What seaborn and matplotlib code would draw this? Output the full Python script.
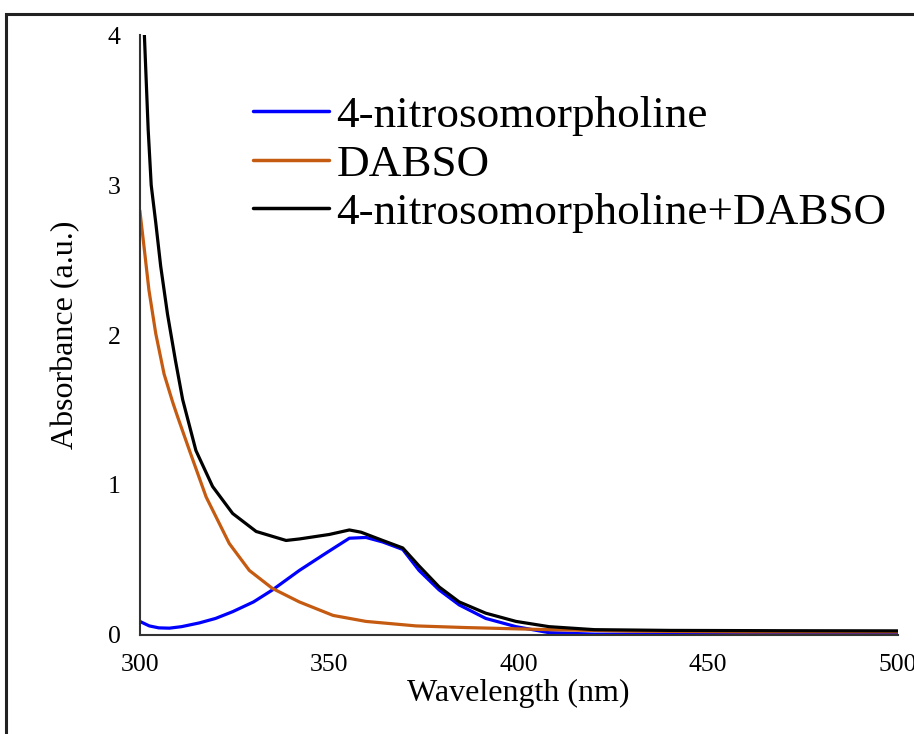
import pandas as pd
import matplotlib.pyplot as plt
import seaborn as sns
from matplotlib.patches import Rectangle

# Spectra (wavelength in nm, absorbance in a.u.)
wl_nitroso = [300, 302.5, 305, 307.8, 311, 315.7, 320, 324.5, 330, 335, 342.1,
              349.1, 355.3, 359.7, 364.1, 369.4, 373.7, 379, 384.3, 391.3,
              399.3, 408, 420, 460, 500]
abs_nitroso = [0.09, 0.06, 0.047, 0.045, 0.055, 0.08, 0.11, 0.155, 0.22, 0.30, 0.43,
               0.545, 0.645, 0.65, 0.62, 0.57, 0.43, 0.30, 0.20, 0.11,
               0.055, 0.015, 0.005, 0.005, 0.005]

wl_dabso = [300, 301.1, 302.4, 304.2, 306.4, 308.7, 309.9, 313.1, 317.5, 323.6,
            328.9, 335, 342.1, 351, 359.7, 372.9, 386.1, 408, 430, 460, 500]
abs_dabso = [2.83, 2.59, 2.30, 2.01, 1.74, 1.55, 1.46, 1.23, 0.92, 0.61,
             0.43, 0.31, 0.22, 0.13, 0.09, 0.06, 0.049, 0.035, 0.025, 0.02, 0.02]

wl_mix = [300, 301.2, 302.2, 303.0, 304.2, 305.5, 307.3, 309.4, 311.3, 314.8,
          319.2, 324.5, 330.7, 338.6, 342.1, 350, 355.3, 358.4, 364.1, 369.4,
          373.7, 379, 384.3, 391.3, 399.3, 408, 420, 440, 470, 500]
abs_mix = [4.8, 4.0, 3.37, 3.0, 2.75, 2.46, 2.14, 1.83, 1.57, 1.23,
           0.99, 0.81, 0.69, 0.63, 0.64, 0.67, 0.70, 0.685, 0.63, 0.58,
           0.46, 0.32, 0.22, 0.145, 0.09, 0.055, 0.035, 0.03, 0.028, 0.027]

labels = ['4-nitrosomorpholine', 'DABSO', '4-nitrosomorpholine+DABSO']
colors = ['#0000FF', '#C55A11', '#000000']

df = pd.concat([
    pd.DataFrame({'Wavelength': wl_nitroso, 'Absorbance': abs_nitroso, 'Sample': labels[0]}),
    pd.DataFrame({'Wavelength': wl_dabso, 'Absorbance': abs_dabso, 'Sample': labels[1]}),
    pd.DataFrame({'Wavelength': wl_mix, 'Absorbance': abs_mix, 'Sample': labels[2]}),
], ignore_index=True)

sns.set_style('white')
plt.rcParams['font.family'] = ['Liberation Serif', 'DejaVu Serif']
plt.rcParams['text.color'] = 'black'
plt.rcParams['axes.labelcolor'] = 'black'
plt.rcParams['xtick.color'] = 'black'
plt.rcParams['ytick.color'] = 'black'

fig = plt.figure(figsize=(9.14, 7.34), dpi=100)
ax = fig.add_axes([0.153, 0.135, 0.829, 0.817])

sns.lineplot(data=df, x='Wavelength', y='Absorbance', hue='Sample',
             hue_order=labels, palette=colors, linewidth=2.3, sort=True,
             estimator=None, ax=ax)

ax.set_xlim(300, 500)
ax.set_ylim(0, 4)
ax.set_xticks([300, 350, 400, 450, 500])
ax.set_yticks([0, 1, 2, 3, 4])
ax.tick_params(axis='both', length=0, labelsize=18.5)
ax.tick_params(axis='x', pad=14)
ax.tick_params(axis='y', pad=14)
ax.set_xlabel('Wavelength (nm)', fontsize=23, labelpad=2)
ax.set_ylabel('Absorbance (a.u.)', fontsize=23, labelpad=20)

sns.despine(ax=ax)
for side in ['left', 'bottom']:
    ax.spines[side].set_color('#333333')
    ax.spines[side].set_linewidth(1.5)

leg = ax.legend(loc='upper left', bbox_to_anchor=(0.149, 0.90), frameon=False,
                fontsize=32.5, handlelength=1.7, handletextpad=0.15,
                labelspacing=0.18, borderaxespad=0, borderpad=0)
for line in leg.get_lines():
    line.set_linewidth(2.5)

# outer frame of the figure
fig.patches.append(Rectangle((6 / 914, -0.05), 1.1, 0.05 + 1 - 14 / 734,
                             transform=fig.transFigure, fill=False,
                             edgecolor='#222222', linewidth=2.2))

fig.savefig('out.png', dpi=100)
